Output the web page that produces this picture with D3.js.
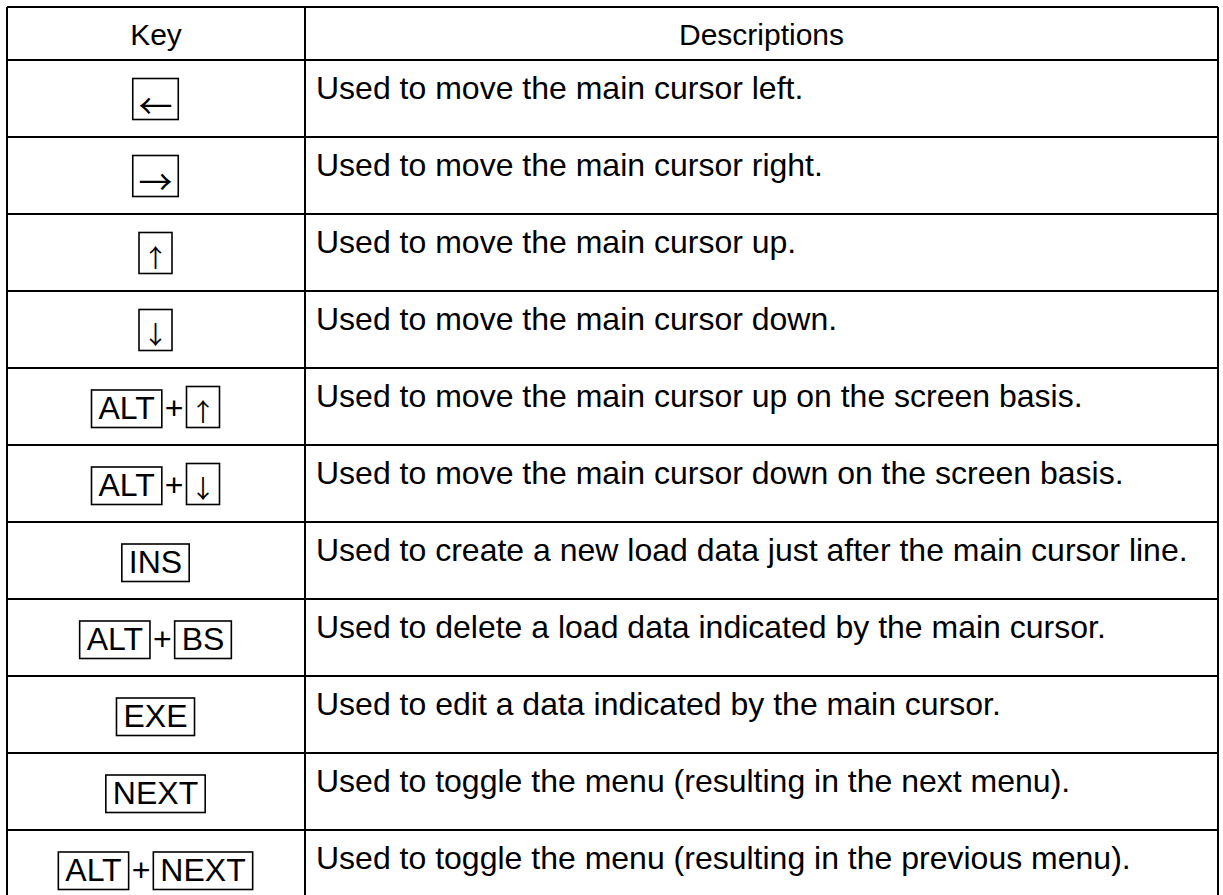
<!DOCTYPE html>
<html>
<head>
<meta charset="utf-8">
<script src="https://cdn.jsdelivr.net/npm/d3@7"></script>
<style>
  html, body { margin: 0; padding: 0; background: #fff; }
  svg { display: block; font-family: Arial, "Liberation Sans", sans-serif; }
</style>
</head>
<body>
<svg id="chart" width="1223" height="895"></svg>
<script>
// ---- data ----
const headers = ["Key", "Descriptions"];
const keys = [
  ["←"],
  ["→"],
  ["↑"],
  ["↓"],
  ["ALT", "↑"],
  ["ALT", "↓"],
  ["INS"],
  ["ALT", "BS"],
  ["EXE"],
  ["NEXT"],
  ["ALT", "NEXT"]
];
const descriptions = [
  "Used to move the main cursor left.",
  "Used to move the main cursor right.",
  "Used to move the main cursor up.",
  "Used to move the main cursor down.",
  "Used to move the main cursor up on the screen basis.",
  "Used to move the main cursor down on the screen basis.",
  "Used to create a new load data just after the main cursor line.",
  "Used to delete a load data indicated by the main cursor.",
  "Used to edit a data indicated by the main cursor.",
  "Used to toggle the menu (resulting in the next menu).",
  "Used to toggle the menu (resulting in the previous menu)."
];

// ---- layout ----
const svg = d3.select("#chart");
const tLeft = 7, tRight = 1218, colX = 305, tTop = 7, headBottom = 60, rowH = 77;
const fontSize = 32;
const rows = d3.range(descriptions.length);
const y = d3.scaleBand().domain(rows).range([headBottom, headBottom + rowH * rows.length]).paddingInner(0).paddingOuter(0);
const tBottom = headBottom + rowH * rows.length;

const lines = svg.append("g").attr("stroke", "#000").attr("stroke-width", 2).attr("fill", "none");
lines.append("line").attr("x1", tLeft).attr("x2", tLeft).attr("y1", tTop).attr("y2", tBottom);
lines.append("line").attr("x1", tRight).attr("x2", tRight).attr("y1", tTop).attr("y2", tBottom);
lines.append("line").attr("x1", colX).attr("x2", colX).attr("y1", tTop).attr("y2", tBottom);
lines.append("line").attr("x1", tLeft).attr("x2", tRight).attr("y1", tTop).attr("y2", tTop);
lines.selectAll(".hl").data([headBottom].concat(rows.map(r => y(r) + y.bandwidth())))
  .join("line").attr("class", "hl")
  .attr("x1", tLeft).attr("x2", tRight).attr("y1", d => d).attr("y2", d => d);

// headers
svg.append("g").selectAll("text").data(headers).join("text")
  .attr("x", (d, i) => i === 0 ? (tLeft + colX) / 2 : (colX + tRight) / 2)
  .attr("y", 45)
  .attr("text-anchor", "middle")
  .attr("font-size", 30)
  .attr("fill", "#000")
  .text(d => d);

// descriptions
svg.append("g").selectAll("text").data(descriptions).join("text")
  .attr("x", 316)
  .attr("y", (d, i) => y(i) + 38.5)
  .attr("font-size", fontSize)
  .attr("fill", "#000")
  .text(d => d);

// keys
const arrowStyle = {
  "←": { box: 45.5, size: 34, cy: -6.5 },
  "→": { box: 45.5, size: 34, cy: -7.5 },
  "↑": { box: 33, size: 25, cy: -9.5 },
  "↓": { box: 33, size: 25, cy: -9.5 }
};
const arrowFont = '"Noto Sans CJK JP", "Noto Sans CJK SC", "DejaVu Sans", sans-serif';
const pad = 7, gap = 3;
const keyCenter = (tLeft + colX) / 2 - 0.5;
keys.forEach((tokens, i) => {
  const base = y(i) + 51;
  const g = svg.append("g");
  let x = 0;
  tokens.forEach((tok, j) => {
    if (j > 0) {
      x += gap;
      const plus = g.append("text").attr("x", x).attr("y", base).attr("font-size", fontSize).attr("fill", "#000").text("+");
      x += plus.node().getComputedTextLength() + gap;
    }
    const st = arrowStyle[tok];
    let bw, bTop;
    const bBot = base + 8.5;
    if (st) {
      bw = st.box;
      bTop = base - 32.5;
      g.append("text")
        .attr("x", x + bw / 2)
        .attr("y", base + st.cy)
        .attr("text-anchor", "middle")
        .attr("dominant-baseline", "central")
        .attr("font-family", arrowFont)
        .attr("font-size", st.size)
        .attr("fill", "#000")
        .text(tok);
    } else {
      const t = g.append("text").attr("x", x + pad).attr("y", base).attr("font-size", fontSize).attr("fill", "#000").text(tok);
      bw = t.node().getComputedTextLength() + pad * 2;
      bTop = base - 29;
    }
    g.insert("rect", "text")
      .attr("x", x).attr("y", bTop).attr("width", bw).attr("height", bBot - bTop)
      .attr("fill", "none").attr("stroke", "#000").attr("stroke-width", 1.6);
    x += bw;
  });
  g.attr("transform", `translate(${keyCenter - x / 2},0)`);
});
</script>
</body>
</html>
